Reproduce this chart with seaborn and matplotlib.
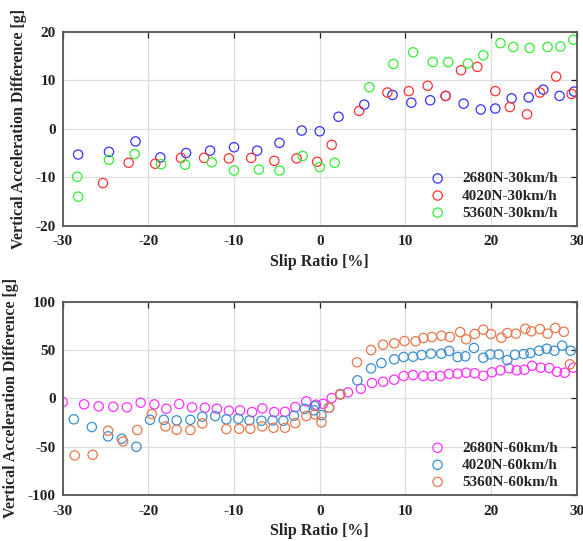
import numpy as np
import pandas as pd
import matplotlib
matplotlib.use('Agg')
import matplotlib.pyplot as plt
import seaborn as sns

# ---- data (slip ratio [%], accel diff [g]) ----
# 30 km/h
slip_2680_30 = [-28.2, -24.6, -21.5, -18.6, -15.6, -12.8, -10.0, -7.3, -4.7, -2.1, 0.0,
                2.2, 5.2, 8.5, 10.7, 12.9, 14.7, 16.8, 18.8, 20.5, 22.4, 24.4, 26.1, 28.0, 29.7]
acc_2680_30 = [-5.3, -4.75, -2.6, -5.9, -5.0, -4.5, -3.8, -4.5, -2.9, -0.35, -0.5,
               2.5, 5.0, 7.0, 5.4, 5.9, 6.8, 5.2, 4.0, 4.2, 6.3, 6.5, 8.1, 6.8, 7.7]

slip_4020_30 = [-25.3, -22.3, -19.2, -16.2, -13.5, -10.6, -8.0, -5.3, -2.7, -0.3,
                1.4, 4.6, 7.9, 10.4, 12.6, 14.7, 16.5, 18.4, 20.5, 22.2, 24.2, 25.7, 27.6, 29.4]
acc_4020_30 = [-11.2, -7.0, -7.2, -6.0, -6.0, -6.1, -6.0, -6.6, -6.1, -6.8,
               -3.3, 3.7, 7.5, 7.8, 8.9, 6.8, 12.1, 12.8, 7.8, 4.5, 3.0, 7.5, 10.8, 7.2]

slip_5360_30 = [-28.3, -28.2, -24.6, -21.6, -18.5, -15.7, -12.6, -10.0, -7.1, -4.7, -2.0, 0.0,
                1.75, 5.8, 8.6, 10.9, 13.2, 15.0, 17.3, 19.1, 21.1, 22.6, 24.5, 26.6, 28.1, 29.6]
acc_5360_30 = [-9.9, -14.0, -6.4, -5.2, -7.3, -7.4, -6.9, -8.6, -8.4, -8.6, -5.6, -7.9,
               -7.0, 8.6, 13.4, 15.8, 13.8, 13.8, 13.5, 15.2, 17.7, 16.9, 16.7, 16.9, 17.0, 18.4]

# 60 km/h
slip_2680_60 = [-30.0, -27.5, -25.8, -24.1, -22.5, -20.9, -19.3, -17.9, -16.4, -14.9, -13.4,
                -12.0, -10.6, -9.3, -7.9, -6.7, -5.3, -4.05, -2.85, -1.56, -0.43, 0.4,
                1.4, 2.4, 3.3, 4.8, 6.1, 7.4, 8.7, 9.8, 10.9, 12.1, 13.1, 14.1, 15.1,
                16.1, 17.1, 18.1, 19.1, 20.1, 21.1, 22.1, 23.0, 23.9, 24.8, 25.8, 26.8,
                27.7, 28.6, 29.6]
acc_2680_60 = [-3.8, -6.2, -8.3, -8.7, -9.3, -4.5, -6.2, -10.8, -5.9, -9.3, -9.7,
               -10.8, -12.8, -12.4, -14.2, -10.4, -14.2, -13.9, -9.0, -3.1, -6.6, -5.6,
               0.3, 4.1, 6.2, 9.9, 15.8, 17.2, 19.3, 23.1, 24.1, 23.1, 23.1, 23.1, 25.2,
               25.5, 26.5, 25.9, 23.4, 26.9, 29.0, 31.1, 29.0, 29.6, 33.7, 31.7, 31.4,
               27.5, 26.5, 31.7]

slip_4020_60 = [-28.7, -26.6, -24.7, -23.1, -21.4, -19.8, -18.2, -16.7, -15.1, -13.7, -12.2,
                -10.9, -9.5, -8.2, -6.8, -5.5, -4.25, -3.0, -1.75, -0.66, -0.55, 0.2,
                1.1, 2.4, 4.4, 6.0, 7.2, 8.7, 9.8, 10.9, 11.9, 13.0, 14.2, 15.1, 16.1,
                17.0, 18.0, 19.1, 19.9, 20.9, 21.9, 22.8, 23.8, 24.6, 25.6, 26.5, 27.4,
                28.3, 29.3]
acc_4020_60 = [-21.7, -29.7, -39.3, -41.8, -50.1, -22.2, -22.2, -22.8, -22.2, -19.0, -18.3,
               -21.7, -21.1, -22.8, -23.2, -22.8, -23.2, -18.0, -10.8, -12.4, -8.0, -17.3,
               -9.7, 4.4, 18.6, 31.0, 36.5, 40.4, 42.8, 43.1, 44.8, 46.2, 46.2, 49.0, 42.8,
               43.5, 52.1, 42.0, 45.5, 45.5, 39.6, 45.1, 45.9, 46.9, 49.3, 51.3, 49.3,
               54.5, 49.3]

slip_5360_60 = [-28.6, -26.5, -24.7, -22.95, -21.3, -19.6, -18.0, -16.7, -15.1, -13.7,
                -10.9, -9.4, -8.1, -6.7, -5.4, -4.05, -2.85, -1.56, -0.55, 0.2,
                1.1, 2.4, 4.35, 6.0, 7.4, 8.7, 9.9, 11.2, 12.1, 13.1, 14.2, 15.2, 16.4,
                17.1, 18.1, 19.1, 20.0, 21.2, 21.9, 22.9, 24.0, 24.7, 25.7, 26.6, 27.5,
                28.5, 29.2]
acc_5360_60 = [-59.0, -58.4, -33.5, -44.5, -32.8, -16.3, -29.0, -32.5, -32.8, -25.9,
               -31.8, -31.5, -31.5, -29.0, -30.4, -30.4, -25.6, -18.3, -16.6, -24.8,
               -9.7, 4.1, 37.3, 50.0, 55.5, 56.9, 59.3, 59.0, 62.4, 63.5, 64.8, 63.5, 68.6,
               61.1, 66.6, 71.0, 66.6, 62.7, 67.6, 66.9, 72.0, 69.4, 71.7, 66.9, 72.8,
               68.9, 35.2]

labels_30 = ['2680N-30km/h', '4020N-30km/h', '5360N-30km/h']
labels_60 = ['2680N-60km/h', '4020N-60km/h', '5360N-60km/h']
colors_30 = ['#3333ff', '#ff3333', '#33ee33']
colors_60 = ['#ff33ff', '#3a8fd0', '#e8784a']


def make_df(slips, accs, labels):
    frames = []
    for s, a, lab in zip(slips, accs, labels):
        frames.append(pd.DataFrame({'slip': s, 'acc': a, 'case': lab}))
    return pd.concat(frames, ignore_index=True)


df30 = make_df([slip_2680_30, slip_4020_30, slip_5360_30],
               [acc_2680_30, acc_4020_30, acc_5360_30], labels_30)
df60 = make_df([slip_2680_60, slip_4020_60, slip_5360_60],
               [acc_2680_60, acc_4020_60, acc_5360_60], labels_60)

sns.set_style('white')
plt.rcParams['font.family'] = ['Liberation Serif', 'DejaVu Serif']
plt.rcParams['font.weight'] = 'bold'
plt.rcParams['axes.labelweight'] = 'bold'
plt.rcParams['axes.unicode_minus'] = False

fig = plt.figure(figsize=(5.83, 5.41), dpi=100)
ax1 = fig.add_axes([62.7 / 583, 1 - 225.7 / 541, 514 / 583, 193.7 / 541])
ax2 = fig.add_axes([62.7 / 583, 1 - 495 / 541, 514 / 583, 193.3 / 541])


def draw(ax, df, labels, colors, yticks):
    for lab, col in zip(labels, colors):
        sub = df[df['case'] == lab]
        sns.scatterplot(data=sub, x='slip', y='acc', ax=ax, marker='o', s=45,
                        facecolors='none', edgecolor=col, linewidth=0.9, label=lab)
    ax.set_xlim(-30, 30)
    ax.set_ylim(yticks[0], yticks[-1])
    ax.set_xticks([-30, -20, -10, 0, 10, 20, 30])
    ax.set_yticks(yticks)
    ax.grid(True, color='#dddddd', linewidth=0.9)
    ax.set_axisbelow(True)
    ax.tick_params(direction='in', length=4, width=0.9, top=True, right=True,
                   labelsize=11, colors='#222222')
    ax.tick_params(axis='x', pad=7)
    ax.tick_params(axis='y', pad=5)
    for t in ax.get_xticklabels() + ax.get_yticklabels():
        t.set_fontweight('bold')
    for sp in ax.spines.values():
        sp.set_color('#555555')
        sp.set_linewidth(1.3)
    ax.set_xlabel('Slip Ratio [%]', fontsize=11.5, labelpad=4)
    ax.set_ylabel('Vertical Acceleration Difference [g]', fontsize=11.5, labelpad=6)
    leg = ax.legend(loc='lower right', frameon=False,
                    handletextpad=0.6, labelspacing=0.22, borderaxespad=0.0,
                    bbox_to_anchor=(0.975, 0.0),
                    prop={'weight': 'bold', 'size': 11})
    for h in leg.legend_handles:
        h.set_sizes([45])


draw(ax1, df30, labels_30, colors_30, [-20, -10, 0, 10, 20])
draw(ax2, df60, labels_60, colors_60, [-100, -50, 0, 50, 100])

fig.savefig('out.png', dpi=100)
